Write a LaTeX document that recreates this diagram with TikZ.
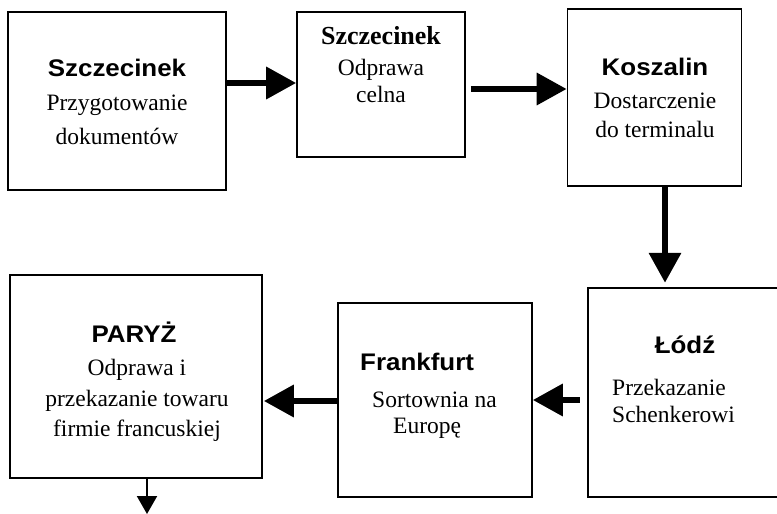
\documentclass[tikz,border=0pt]{standalone}
\usepackage{fontspec}
\setmainfont{Liberation Serif}
\newfontfamily\headsans{Liberation Sans}[FakeStretch=1.08]
\usetikzlibrary{arrows.meta}

\begin{document}
\begin{tikzpicture}[x=1pt, y=-1pt,
  box/.style={draw, line width=1.6pt, rectangle, inner sep=0pt},
  frame/.style={line width=1.6pt},
  ttl/.style={inner sep=0pt, font=\headsans\bfseries\fontsize{24}{28}\selectfont},
  ttlserif/.style={inner sep=0pt, font=\bfseries\fontsize{26}{30}\selectfont},
  txt/.style={inner sep=0pt, font=\fontsize{23.5}{28}\selectfont},
  bigarrow/.style={line width=6.5pt, -{Triangle[length=30pt, width=31pt]}},
  thinarrow/.style={line width=2pt, -{Triangle[length=18pt, width=20pt]}}]

\useasboundingbox (0,0) rectangle (777,514);

% stages
\node[box, minimum width=218pt, minimum height=178pt] (b1) at (117,101) {};
\node[box, minimum width=168pt, minimum height=145pt] (b2) at (381,84.5) {};
\node[box, minimum width=174pt, minimum height=177pt] (b3) at (654.5,97.5) {};
% the Łódź box runs on past the right margin: its right side is not drawn
\node[inner sep=0pt, minimum width=189pt, minimum height=209pt] (b4) at (682.5,392.5) {};
\draw[frame] (b4.north east) -- (b4.north west) -- (b4.south west) -- (b4.south east);
\node[box, minimum width=194pt, minimum height=194pt] (b5) at (435,400) {};
\node[box, minimum width=252pt, minimum height=203pt] (b6) at (136,376.5) {};

% Szczecinek
\node[ttl, anchor=base] (t1) at (117,76) {Szczecinek};
\node[txt, anchor=base] (t1a) at (117,110) {Przygotowanie};
\node[txt, anchor=base] (t1b) at (117,144) {dokumentów};

% Szczecinek, customs
\node[ttlserif, anchor=base] (t2) at (381,45) {Szczecinek};
\node[txt, anchor=base] (t2a) at (381,75) {Odprawa};
\node[txt, anchor=base] (t2b) at (381,102) {celna};

% Koszalin
\node[ttl, anchor=base] (t3) at (655,75) {Koszalin};
\node[txt, anchor=base] (t3a) at (655,108) {Dostarczenie};
\node[txt, anchor=base] (t3b) at (655,137) {do terminalu};

% Łódź
\node[ttl, anchor=base] (t4) at (685,353) {Łódź};
\node[txt, anchor=base west] (t4a) at (612,395) {Przekazanie};
\node[txt, anchor=base west] (t4b) at (612,422) {Schenkerowi};

% Frankfurt
\node[ttl, anchor=base west] (t5) at (360,370) {Frankfurt};
\node[txt, anchor=base west] (t5a) at (372,407) {Sortownia na};
\node[txt, anchor=base west] (t5b) at (393,433) {Europę};

% Paryż
\node[ttl, anchor=base] (t6) at (134,342) {PARYŻ};
\node[txt, anchor=base] (t6a) at (137,375) {Odprawa i};
\node[txt, anchor=base] (t6b) at (137,406) {przekazanie towaru};
\node[txt, anchor=base] (t6c) at (137,436) {firmie francuskiej};

% connector levels
\coordinate (r1) at (0,83);
\coordinate (r2) at (0,89);
\coordinate (c3) at (665,0);
\coordinate (r4) at (0,400);
\coordinate (r5) at (0,401);
\coordinate (c6) at (147,0);
\coordinate (out) at (147,514);

\draw[bigarrow] (b1.east |- r1) -- (b2.west |- r1);
\draw[bigarrow] ([xshift=5pt]b2.east |- r2) -- (b3.west |- r2);
\draw[bigarrow] (b3.south -| c3) -- ([yshift=5pt]b4.north -| c3);
\draw[bigarrow] ([xshift=-8pt]b4.west |- r4) -- (b5.east |- r4);
\draw[bigarrow] (b5.west |- r5) -- ([xshift=1pt]b6.east |- r5);
\draw[thinarrow] (b6.south -| c6) -- (out);
\end{tikzpicture}
\end{document}
